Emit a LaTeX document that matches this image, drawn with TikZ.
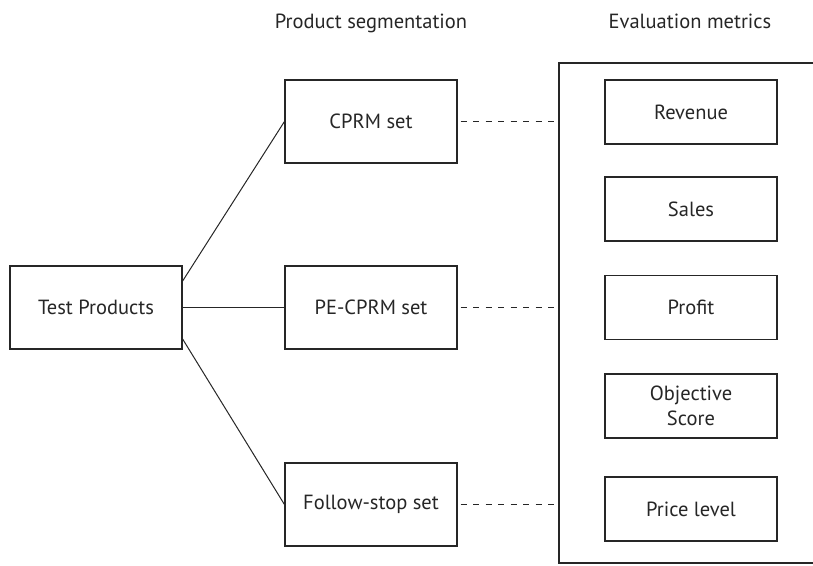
\documentclass[tikz,border=0pt]{standalone}
\usepackage{fontspec}
\setmainfont{PT Sans}
\begin{document}
\begin{tikzpicture}[x=1pt,y=-1pt,
  box/.style={draw=black!85,line width=1.1pt,rectangle,minimum width=172pt,inner sep=0pt,align=center,font=\fontsize{20.5}{25}\selectfont,text=black!85},
  bigbox/.style={box,minimum height=83pt},
  metric/.style={box,minimum height=64pt},
  link/.style={draw=black!85,line width=1pt},
  dlink/.style={draw=black!85,line width=1pt,dash pattern=on 6pt off 6.5pt},
  title/.style={font=\fontsize{20.5}{25}\selectfont,text=black!85,anchor=base}]
\useasboundingbox (0,0) rectangle (813,565);
\node[title] (t1) at (371,28) {Product segmentation};
\node[title] (t2) at (690,28) {Evaluation metrics};
\node[bigbox] (tp) at (96,307.5) {Test Products};
\node[bigbox] (cprm) at (371,121.5) {CPRM set};
\node[bigbox] (pe) at (371,307.5) {PE-CPRM set};
\node[bigbox] (fs) at (371,504.5) {Follow-stop set};
\draw[draw=black!85,line width=1.1pt] (830,63) -- (559,63) -- (559,563) -- (830,563);
\coordinate (bl) at (559,300);
\node[metric] (rev) at (691,112) {Revenue};
\node[metric] (sal) at (691,209) {Sales};
\node[metric] (pro) at (691,307.5) {Profit};
\node[metric] (obj) at (691,406) {Objective\\Score};
\node[metric] (pri) at (691,509) {Price level};
\coordinate (tpa) at (182,282);
\coordinate (tpc) at (182,338);
\draw[link] (tpa) -- (cprm.west);
\draw[link] (tp.east) -- (pe.west);
\draw[link] (tpc) -- (fs.west);
\draw[dlink] ([xshift=3pt]cprm.east) -- (bl |- cprm.east);
\draw[dlink] ([xshift=3pt]pe.east) -- (bl |- pe.east);
\draw[dlink] ([xshift=3pt]fs.east) -- (bl |- fs.east);
\end{tikzpicture}
\end{document}
